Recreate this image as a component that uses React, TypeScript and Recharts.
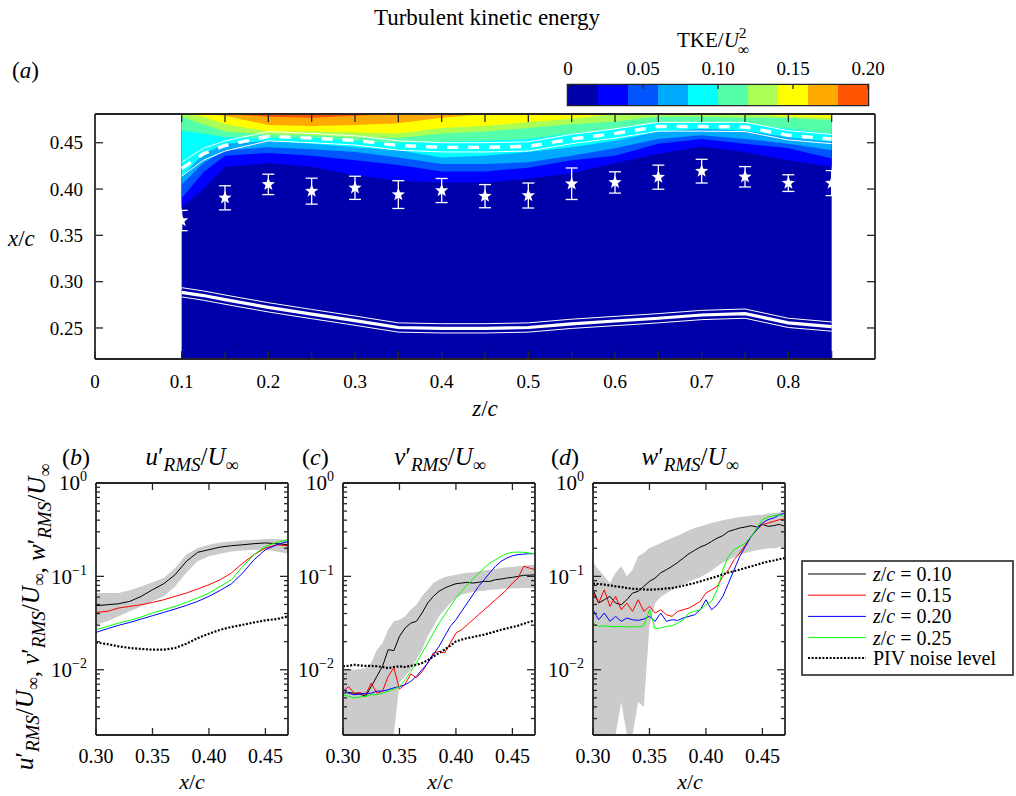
import React from 'react';
import { ComposedChart, BarChart, Bar, Area, Line, Scatter, ErrorBar, XAxis, YAxis, ReferenceArea } from 'recharts';

const SERIF = '"Liberation Serif", "Times New Roman", serif';
const AXC = '#262626';

// ---------- (a) TKE contour: x/c of each colour-band edge along z/c ----------
const Z_GRID = [0.1, 0.125, 0.15, 0.2, 0.25, 0.3, 0.35, 0.4, 0.45, 0.5, 0.55, 0.6, 0.65, 0.7, 0.75, 0.8, 0.85];
const TKE_COLORS = ['#0000AA', '#0000FF', '#0055FF', '#00AAFF', '#00FFFF', '#55FFAA', '#AAFF55', '#FFFF00', '#FFAA00', '#FF5500'];
const EDGE_1 = [0.380, 0.400, 0.424, 0.428, 0.424, 0.415, 0.409, 0.407, 0.407, 0.411, 0.417, 0.428, 0.438, 0.446, 0.440, 0.431, 0.424];
const EDGE_2 = [0.390, 0.418, 0.436, 0.439, 0.436, 0.431, 0.426, 0.419, 0.419, 0.423, 0.431, 0.436, 0.449, 0.454, 0.449, 0.444, 0.433];
const EDGE_3 = [0.405, 0.428, 0.442, 0.445, 0.443, 0.440, 0.434, 0.427, 0.427, 0.429, 0.436, 0.444, 0.454, 0.458, 0.454, 0.449, 0.442];
const EDGE_4 = [0.413, 0.438, 0.449, 0.452, 0.449, 0.445, 0.442, 0.434, 0.436, 0.440, 0.445, 0.452, 0.462, 0.465, 0.463, 0.456, 0.451];
const EDGE_5 = [0.463, 0.460, 0.456, 0.455, 0.455, 0.452, 0.450, 0.451, 0.452, 0.454, 0.460, 0.465, 0.472, 0.472, 0.471, 0.465, 0.460];
const EDGE_6 = [0.478, 0.470, 0.462, 0.459, 0.458, 0.456, 0.455, 0.460, 0.462, 0.466, 0.470, 0.473, 0.478, 0.478, 0.477, 0.477, 0.474];
const EDGE_7 = [0.481, 0.478, 0.470, 0.462, 0.462, 0.461, 0.460, 0.466, 0.468, 0.472, 0.476, 0.481, 0.481, 0.481, 0.481, 0.478, 0.477];
const EDGE_8 = [0.481, 0.481, 0.479, 0.469, 0.468, 0.469, 0.471, 0.477, 0.481, 0.481, 0.481, 0.481, 0.481, 0.481, 0.481, 0.481, 0.481];
const EDGE_9 = [0.481, 0.481, 0.481, 0.478, 0.477, 0.479, 0.481, 0.481, 0.481, 0.481, 0.481, 0.481, 0.481, 0.481, 0.481, 0.481, 0.481];
const EDGES = [EDGE_1, EDGE_2, EDGE_3, EDGE_4, EDGE_5, EDGE_6, EDGE_7, EDGE_8, EDGE_9];

const BL_DASH = [0.422, 0.438, 0.447, 0.457, 0.455, 0.4525, 0.447, 0.445, 0.445, 0.446, 0.454, 0.460, 0.4675, 0.4675, 0.467, 0.458, 0.454];
const BL_UPPER = [0.429, 0.444, 0.452, 0.462, 0.460, 0.4575, 0.452, 0.450, 0.450, 0.451, 0.459, 0.465, 0.472, 0.472, 0.472, 0.463, 0.459];
const BL_LOWER = [0.414, 0.431, 0.441, 0.452, 0.450, 0.4475, 0.442, 0.440, 0.440, 0.441, 0.449, 0.455, 0.4625, 0.4625, 0.462, 0.453, 0.449];
const WALL = [0.2885, 0.285, 0.2806, 0.2723, 0.265, 0.2579, 0.2505, 0.2496, 0.2496, 0.2505, 0.2545, 0.2575, 0.2605, 0.264, 0.2655, 0.2555, 0.2515];
const WALL_UPPER = [0.2935, 0.290, 0.2856, 0.2773, 0.270, 0.2629, 0.2555, 0.2546, 0.2546, 0.2555, 0.2595, 0.2625, 0.2655, 0.269, 0.2705, 0.2605, 0.2565];
const WALL_LOWER = [0.2835, 0.280, 0.2756, 0.2673, 0.260, 0.2529, 0.2455, 0.2446, 0.2446, 0.2455, 0.2495, 0.2525, 0.2555, 0.259, 0.2605, 0.2505, 0.2465];

const STAR_Z = [0.1, 0.15, 0.2, 0.25, 0.3, 0.35, 0.4, 0.45, 0.5, 0.55, 0.6, 0.65, 0.7, 0.75, 0.8, 0.85];
const STAR_X = [0.366, 0.3905, 0.405, 0.3977, 0.4013, 0.394, 0.3984, 0.3923, 0.393, 0.4057, 0.4071, 0.4128, 0.4193, 0.4132, 0.4064, 0.4064];
const STAR_ERR = [0.011, 0.013, 0.011, 0.014, 0.0125, 0.015, 0.013, 0.0125, 0.0135, 0.017, 0.0115, 0.013, 0.0128, 0.011, 0.009, 0.0135];

const A_X_TICKS = [0, 0.1, 0.15, 0.2, 0.25, 0.3, 0.35, 0.4, 0.45, 0.5, 0.55, 0.6, 0.65, 0.7, 0.75, 0.8, 0.85];
const A_TOP_TICKS = [0.1, 0.15, 0.2, 0.25, 0.3, 0.35, 0.4, 0.45, 0.5, 0.55, 0.6, 0.65, 0.7, 0.75, 0.8, 0.85];
const A_Y_TICKS = [0.25, 0.3, 0.35, 0.4, 0.45];
const A_Y_DOMAIN = [0.2165, 0.481];

const CBAR_BINS = [0.02, 0.02, 0.02, 0.02, 0.02, 0.02, 0.02, 0.02, 0.02, 0.02];
const CBAR_TICKS = [0, 0.05, 0.1, 0.15, 0.2];

// ---------- (b)-(d) RMS profiles ----------
const X_B = [0.30, 0.31, 0.32, 0.33, 0.34, 0.35, 0.36, 0.37, 0.38, 0.39, 0.40, 0.41, 0.42, 0.43, 0.44, 0.45, 0.46, 0.47];
const B_K10 = [0.0485, 0.0497, 0.0509, 0.0540, 0.0611, 0.0719, 0.0834, 0.104, 0.145, 0.181, 0.193, 0.206, 0.213, 0.218, 0.224, 0.228, 0.224, 0.218];
const B_K15 = [0.0411, 0.0422, 0.0458, 0.0477, 0.0497, 0.0526, 0.0562, 0.0611, 0.0663, 0.0731, 0.0814, 0.0921, 0.109, 0.139, 0.171, 0.201, 0.218, 0.213];
const B_K20 = [0.0251, 0.0275, 0.0299, 0.0321, 0.0349, 0.0379, 0.0411, 0.0447, 0.0489, 0.0540, 0.0611, 0.0708, 0.0834, 0.109, 0.151, 0.193, 0.218, 0.237];
const B_K25 = [0.0268, 0.0291, 0.0316, 0.0338, 0.0367, 0.0405, 0.0439, 0.0477, 0.0526, 0.0586, 0.0663, 0.0781, 0.0921, 0.128, 0.171, 0.210, 0.231, 0.247];
const B_NOISE = [0.0196, 0.0188, 0.0178, 0.0171, 0.0167, 0.0164, 0.0164, 0.0171, 0.0190, 0.0218, 0.0243, 0.0268, 0.0287, 0.0303, 0.0321, 0.0338, 0.0349, 0.0373];
const B_BAND_HI = [0.0663, 0.0663, 0.0663, 0.0708, 0.0781, 0.0863, 0.0960, 0.123, 0.171, 0.201, 0.218, 0.231, 0.237, 0.243, 0.247, 0.251, 0.251, 0.247];
const B_BAND_LO = [0.0303, 0.0330, 0.0373, 0.0422, 0.0477, 0.0540, 0.0611, 0.0781, 0.109, 0.145, 0.164, 0.175, 0.185, 0.189, 0.193, 0.193, 0.185, 0.175];

const X_CD = [0.300, 0.305, 0.310, 0.315, 0.320, 0.325, 0.330, 0.335, 0.340, 0.345, 0.350, 0.355, 0.360, 0.365, 0.370, 0.375, 0.380, 0.385,
  0.390, 0.395, 0.400, 0.405, 0.410, 0.415, 0.420, 0.425, 0.430, 0.435, 0.440, 0.445, 0.450, 0.455, 0.460, 0.465, 0.470];

const C_K10 = [0.0056, 0.0057, 0.0056, 0.0055, 0.0052, 0.0066, 0.0085, 0.0109, 0.0164, 0.0160, 0.0228, 0.0280, 0.0316, 0.0330, 0.0405, 0.0518, 0.0611, 0.0691,
  0.0750, 0.0794, 0.0834, 0.0848, 0.0863, 0.0848, 0.0863, 0.0884, 0.0884, 0.0921, 0.0936, 0.0960, 0.0976, 0.100, 0.1025, 0.103, 0.104];
const C_K15 = [0.0059, 0.0066, 0.0056, 0.0057, 0.0054, 0.0072, 0.0056, 0.0059, 0.0085, 0.0105, 0.0062, 0.0070, 0.0090, 0.0082, 0.0095, 0.0118, 0.0151, 0.0157,
  0.0151, 0.0193, 0.0247, 0.0268, 0.0303, 0.0343, 0.0388, 0.0439, 0.0497, 0.0562, 0.0636, 0.0719, 0.0848, 0.0960, 0.128, 0.123, 0.118];
const C_K20 = [0.0061, 0.0056, 0.0054, 0.0055, 0.0056, 0.0056, 0.0059, 0.0059, 0.0061, 0.0064, 0.0066, 0.0069, 0.0075, 0.0085, 0.0100, 0.0118, 0.0145, 0.0178,
  0.0228, 0.0291, 0.0343, 0.0422, 0.0518, 0.0636, 0.0781, 0.0921, 0.109, 0.128, 0.145, 0.157, 0.166, 0.171, 0.173, 0.175, 0.175];
const C_K25 = [0.0054, 0.0052, 0.0050, 0.0051, 0.0052, 0.0054, 0.0054, 0.0056, 0.0059, 0.0062, 0.0066, 0.0078, 0.0096, 0.0118, 0.0151, 0.0193, 0.0247, 0.0316,
  0.0388, 0.0477, 0.0586, 0.0691, 0.0814, 0.0936, 0.107, 0.123, 0.139, 0.151, 0.164, 0.175, 0.181, 0.182, 0.181, 0.178, 0.175];
const C_NOISE = [0.0109, 0.0110, 0.0113, 0.0111, 0.0110, 0.0110, 0.0109, 0.0107, 0.0104, 0.0107, 0.0109, 0.0107, 0.0110, 0.0113, 0.0118, 0.0126, 0.0139, 0.0151,
  0.0164, 0.0181, 0.0201, 0.0210, 0.0218, 0.0224, 0.0231, 0.0238, 0.0247, 0.0257, 0.0268, 0.0277, 0.0287, 0.0296, 0.0311, 0.0325, 0.0338];
const C_BAND_HI = [0.0100, 0.0100, 0.0100, 0.0102, 0.0104, 0.0118, 0.0164, 0.0193, 0.0268, 0.0330, 0.0343, 0.0373, 0.0439, 0.0497, 0.0611, 0.0719, 0.0848, 0.0921,
  0.0984, 0.101, 0.104, 0.107, 0.109, 0.110, 0.113, 0.116, 0.118, 0.120, 0.123, 0.125, 0.126, 0.128, 0.130, 0.132, 0.133];
const C_BAND_LO = [0.002, 0.002, 0.002, 0.002, 0.002, 0.002, 0.002, 0.002, 0.002, 0.002, 0.0072, 0.0085, 0.0100, 0.0128, 0.0164, 0.0228, 0.0291, 0.0373,
  0.0439, 0.0518, 0.0586, 0.0636, 0.0663, 0.068, 0.0691, 0.070, 0.0719, 0.0725, 0.0731, 0.074, 0.0745, 0.0745, 0.075, 0.075, 0.075];

const D_K10 = [0.0719, 0.0518, 0.0562, 0.0611, 0.0518, 0.0497, 0.0562, 0.0663, 0.0691, 0.0781, 0.0884, 0.0960, 0.109, 0.118, 0.128, 0.141, 0.157, 0.175,
  0.190, 0.206, 0.218, 0.237, 0.257, 0.273, 0.303, 0.316, 0.330, 0.338, 0.349, 0.338, 0.361, 0.343, 0.349, 0.361, 0.343];
const D_K15 = [0.0663, 0.0518, 0.0719, 0.0477, 0.0611, 0.0439, 0.0518, 0.0422, 0.0562, 0.0422, 0.0477, 0.0405, 0.0439, 0.0388, 0.0373, 0.0422, 0.0439, 0.0458,
  0.0497, 0.0540, 0.0663, 0.0719, 0.0781, 0.100, 0.118, 0.151, 0.178, 0.218, 0.268, 0.316, 0.358, 0.373, 0.388, 0.405, 0.411];
const D_K20 = [0.0439, 0.0343, 0.0405, 0.0330, 0.0373, 0.0330, 0.0358, 0.0343, 0.0338, 0.0349, 0.0373, 0.0330, 0.0405, 0.0330, 0.0343, 0.0338, 0.0358, 0.0373,
  0.0388, 0.0439, 0.0562, 0.0439, 0.0497, 0.0611, 0.0848, 0.118, 0.164, 0.210, 0.268, 0.316, 0.373, 0.405, 0.422, 0.458, 0.477];
const D_K25 = [0.0316, 0.0291, 0.0296, 0.0291, 0.0287, 0.0291, 0.0287, 0.0291, 0.0287, 0.0296, 0.0440, 0.0273, 0.0280, 0.0291, 0.0296, 0.0316, 0.0343, 0.0405,
  0.0422, 0.0439, 0.0497, 0.0540, 0.0719, 0.118, 0.164, 0.193, 0.210, 0.228, 0.268, 0.330, 0.405, 0.432, 0.447, 0.458, 0.432];
const D_NOISE = [0.0834, 0.0828, 0.0814, 0.0801, 0.0781, 0.0769, 0.0750, 0.0737, 0.0731, 0.0725, 0.0719, 0.0725, 0.0731, 0.0743, 0.0750, 0.0769, 0.0794, 0.0821,
  0.0848, 0.0884, 0.0921, 0.0960, 0.100, 0.105, 0.110, 0.114, 0.118, 0.123, 0.128, 0.133, 0.139, 0.144, 0.148, 0.153, 0.157];
const D_BAND_HI = [0.139, 0.118, 0.100, 0.0848, 0.109, 0.128, 0.100, 0.118, 0.164, 0.178, 0.201, 0.213, 0.228, 0.243, 0.257, 0.273, 0.291, 0.311,
  0.330, 0.343, 0.358, 0.373, 0.388, 0.400, 0.411, 0.422, 0.432, 0.439, 0.447, 0.454, 0.458, 0.470, 0.477, 0.485, 0.497];
const D_BAND_LO = [0.002, 0.002, 0.002, 0.002, 0.002, 0.0045, 0.002, 0.002, 0.0045, 0.004, 0.030, 0.052, 0.060, 0.066, 0.072, 0.077, 0.082, 0.088,
  0.093, 0.098, 0.106, 0.115, 0.128, 0.140, 0.150, 0.160, 0.170, 0.178, 0.185, 0.190, 0.195, 0.200, 0.200, 0.205, 0.205];

const RMS_X_TICKS = [0.3, 0.35, 0.4, 0.45];
const LOG_MAJOR = [0.01, 0.1, 1];
const LOG_MINOR = [0.003, 0.004, 0.005, 0.006, 0.007, 0.008, 0.009, 0.02, 0.03, 0.04, 0.05, 0.06, 0.07, 0.08, 0.09, 0.2, 0.3, 0.4, 0.5, 0.6, 0.7, 0.8, 0.9];
const LOG_TICKS = [...LOG_MINOR, ...LOG_MAJOR];

const LEGEND = [
  { label: '0.10', color: '#000000' },
  { label: '0.15', color: '#FF0000' },
  { label: '0.20', color: '#0000FF' },
  { label: '0.25', color: '#00FF00' },
];

// inward tick marks (matlab style), label drawn outside
type Side = 'left' | 'right' | 'top' | 'bottom';
const mkTick = (side: Side, len: number, label?: (v: number) => React.ReactNode, fs = 19, off = 10, minor: number[] = []) =>
  (p: any) => {
    const { x, y, payload } = p;
    const v = payload.value as number;
    const isMinor = minor.some((m) => Math.abs(m - v) < 1e-9);
    const l = isMinor ? len / 2 : len;
    const d = side === 'left' ? [l, 0] : side === 'right' ? [-l, 0] : side === 'top' ? [0, l] : [0, -l];
    const lab = !isMinor && label ? label(v) : null;
    const ts = { fontFamily: SERIF, fontSize: fs };
    let text: React.ReactNode = null;
    if (lab !== null && lab !== undefined) {
      if (side === 'left') {
        text = <text x={x - off} y={y} dy="0.35em" textAnchor="end" style={ts} fill="#000">{lab}</text>;
      } else if (side === 'bottom') {
        text = <text x={x} y={y + off} textAnchor="middle" style={ts} fill="#000">{lab}</text>;
      } else if (side === 'top') {
        text = <text x={x} y={y - off} textAnchor="middle" style={ts} fill="#000">{lab}</text>;
      }
    }
    return (
      <g>
        <line x1={x} y1={y} x2={x + d[0]} y2={y + d[1]} stroke={AXC} strokeWidth={1.3} />
        {text}
      </g>
    );
  };

const logLabel = (v: number) => {
  const e = Math.round(Math.log10(v));
  return (
    <>
      <tspan>10</tspan>
      <tspan dy={-9} fontSize={14}>{e === 0 ? '0' : '\u2212' + Math.abs(e)}</tspan>
    </>
  );
};

const Star = (p: any) => {
  const { cx, cy } = p;
  if (cx == null || cy == null) return null;
  const pts: string[] = [];
  for (let i = 0; i < 10; i++) {
    const r = i % 2 === 0 ? 7 : 2.9;
    const a = -Math.PI / 2 + (i * Math.PI) / 5;
    pts.push(`${cx + r * Math.cos(a)},${cy + r * Math.sin(a)}`);
  }
  return <polygon points={pts.join(' ')} fill="#ffffff" />;
};

const contourRows = Z_GRID.map((z, i) => {
  const r: any = {
    z,
    base: [A_Y_DOMAIN[0], A_Y_DOMAIN[1]],
    dash: BL_DASH[i], blUp: BL_UPPER[i], blLo: BL_LOWER[i],
    wall: WALL[i], wallUp: WALL_UPPER[i], wallLo: WALL_LOWER[i],
  };
  EDGES.forEach((e, k) => { r['lv' + k] = [e[i], A_Y_DOMAIN[1]]; });
  return r;
});
const starRows = STAR_Z.map((z, i) => ({ z, xc: STAR_X[i], err: STAR_ERR[i] }));

const axisLine = { stroke: AXC, strokeWidth: 1.8 };

// axes are 1px thick (recharts skips a 0-sized axis), margins compensate
const ContourPanel = () => (
  <ComposedChart width={900} height={420} data={contourRows} margin={{ top: 113, right: 24, bottom: 60, left: 94 }}>
    <Area dataKey="base" type="linear" stroke="none" fill={TKE_COLORS[0]} fillOpacity={1} dot={false} activeDot={false} isAnimationActive={false} />
    {EDGES.map((_, k) => (
      <Area key={k} dataKey={'lv' + k} type="linear" stroke="none" fill={TKE_COLORS[k + 1]} fillOpacity={1} dot={false} activeDot={false} isAnimationActive={false} />
    ))}
    <Line dataKey="blUp" type="linear" stroke="#ffffff" strokeWidth={1} dot={false} activeDot={false} isAnimationActive={false} />
    <Line dataKey="blLo" type="linear" stroke="#ffffff" strokeWidth={1} dot={false} activeDot={false} isAnimationActive={false} />
    <Line dataKey="dash" type="linear" stroke="#ffffff" strokeWidth={3.4} strokeDasharray="11 10" dot={false} activeDot={false} isAnimationActive={false} />
    <Line dataKey="wallUp" type="linear" stroke="#ffffff" strokeWidth={1} dot={false} activeDot={false} isAnimationActive={false} />
    <Line dataKey="wallLo" type="linear" stroke="#ffffff" strokeWidth={1} dot={false} activeDot={false} isAnimationActive={false} />
    <Line dataKey="wall" type="linear" stroke="#ffffff" strokeWidth={3.2} dot={false} activeDot={false} isAnimationActive={false} />
    <Scatter data={starRows} dataKey="xc" shape={Star} isAnimationActive={false}>
      <ErrorBar dataKey="err" direction="y" width={6} stroke="#ffffff" strokeWidth={1.3} />
    </Scatter>
    <XAxis dataKey="z" type="number" domain={[0, 0.9]} allowDataOverflow ticks={A_X_TICKS} interval={0} height={1} tickSize={0} tickMargin={0}
      axisLine={axisLine} tickLine={false}
      tick={mkTick('bottom', 8, (v) => (Math.abs(v * 10 - Math.round(v * 10)) < 1e-6 ? (v === 0 ? '0' : v.toFixed(1)) : null), 19, 29)} />
    <XAxis xAxisId="t" dataKey="z" type="number" orientation="top" domain={[0, 0.9]} allowDataOverflow ticks={A_TOP_TICKS} interval={0} height={1}
      tickSize={0} tickMargin={0} axisLine={axisLine} tickLine={false} tick={mkTick('top', 8)} />
    <YAxis type="number" domain={A_Y_DOMAIN} allowDataOverflow ticks={A_Y_TICKS} interval={0} width={1} tickSize={0} tickMargin={0}
      axisLine={axisLine} tickLine={false} tick={mkTick('left', 8, (v) => v.toFixed(2), 19, 12)} />
    <YAxis yAxisId="r" orientation="right" type="number" domain={A_Y_DOMAIN} allowDataOverflow ticks={A_Y_TICKS} interval={0} width={1}
      tickSize={0} tickMargin={0} axisLine={axisLine} tickLine={false} tick={mkTick('right', 8)} />
  </ComposedChart>
);

const cbarRow = [CBAR_BINS.reduce((acc: any, v, i) => ({ ...acc, ['s' + i]: v }), { name: 'tke' })];

const ColorBar = () => (
  <BarChart width={360} height={80} data={cbarRow} layout="vertical" barCategoryGap={0} barGap={0}
    margin={{ top: 44, right: 32, bottom: 15, left: 28 }}>
    {CBAR_BINS.map((_, i) => (
      <Bar key={i} dataKey={'s' + i} stackId="c" fill={TKE_COLORS[i]} isAnimationActive={false} />
    ))}
    <ReferenceArea x1={0} x2={0.2} fill="none" fillOpacity={0} stroke={AXC} strokeWidth={2.6} />
    <XAxis type="number" orientation="top" domain={[0, 0.2]} allowDataOverflow ticks={CBAR_TICKS} interval={0} height={1}
      tickSize={0} tickMargin={0} axisLine={false} tickLine={false}
      tick={mkTick('top', 4, (v) => (v === 0 ? '0' : v.toFixed(2)), 19, 10)} />
    <YAxis type="category" dataKey="name" hide />
  </BarChart>
);

type RmsProps = { left: number; mLeft: number; rows: any[] };
const RmsPanel = ({ left, mLeft, rows }: RmsProps) => (
  <div style={{ position: 'absolute', left, top: 430 }}>
    <ComposedChart width={300} height={366} data={rows} margin={{ top: 52, right: 300 - mLeft - 192 - 1, bottom: 60, left: mLeft - 1 }}>
      <Area dataKey="band" type="linear" stroke="none" fill="#CBCBCB" fillOpacity={1} dot={false} activeDot={false} isAnimationActive={false} />
      <Line dataKey="k10" type="linear" stroke="#000000" strokeWidth={1} dot={false} activeDot={false} isAnimationActive={false} />
      <Line dataKey="k15" type="linear" stroke="#FF0000" strokeWidth={1} dot={false} activeDot={false} isAnimationActive={false} />
      <Line dataKey="k20" type="linear" stroke="#0000FF" strokeWidth={1} dot={false} activeDot={false} isAnimationActive={false} />
      <Line dataKey="k25" type="linear" stroke="#00FF00" strokeWidth={1} dot={false} activeDot={false} isAnimationActive={false} />
      <Line dataKey="noise" type="linear" stroke="#000000" strokeWidth={2.2} strokeDasharray="2 1.6" dot={false} activeDot={false} isAnimationActive={false} />
      <XAxis dataKey="x" type="number" domain={[0.3, 0.47]} allowDataOverflow ticks={RMS_X_TICKS} interval={0} height={1} tickSize={0} tickMargin={0}
        axisLine={axisLine} tickLine={false} tick={mkTick('bottom', 7, (v) => v.toFixed(2), 20, 28)} />
      <XAxis xAxisId="t" dataKey="x" type="number" orientation="top" domain={[0.3, 0.47]} allowDataOverflow ticks={RMS_X_TICKS} interval={0}
        height={1} tickSize={0} tickMargin={0} axisLine={axisLine} tickLine={false} tick={mkTick('top', 7)} />
      <YAxis type="number" scale="log" domain={[0.002, 1]} allowDataOverflow ticks={LOG_TICKS} interval={0} width={1} tickSize={0} tickMargin={0}
        axisLine={axisLine} tickLine={false} tick={mkTick('left', 8, logLabel, 21, 9, LOG_MINOR)} />
      <YAxis yAxisId="r" orientation="right" type="number" scale="log" domain={[0.002, 1]} allowDataOverflow ticks={LOG_TICKS} interval={0}
        width={1} tickSize={0} tickMargin={0} axisLine={axisLine} tickLine={false} tick={mkTick('right', 8, undefined, 21, 9, LOG_MINOR)} />
    </ComposedChart>
  </div>
);

const mkRows = (xs: number[], k10: number[], k15: number[], k20: number[], k25: number[], noise: number[], lo: number[], hi: number[]) =>
  xs.map((x, i) => ({ x, k10: k10[i], k15: k15[i], k20: k20[i], k25: k25[i], noise: noise[i], band: [lo[i], hi[i]] }));

const rowsB = mkRows(X_B, B_K10, B_K15, B_K20, B_K25, B_NOISE, B_BAND_LO, B_BAND_HI);
const rowsC = mkRows(X_CD, C_K10, C_K15, C_K20, C_K25, C_NOISE, C_BAND_LO, C_BAND_HI);
const rowsD = mkRows(X_CD, D_K10, D_K15, D_K20, D_K25, D_NOISE, D_BAND_LO, D_BAND_HI);

const RmsSym = ({ ch }: { ch: string }) => (
  <>
    <tspan fontStyle="italic">{ch}</tspan>
    <tspan>{'\u2032'}</tspan>
    <tspan fontStyle="italic" fontSize={19} dy={6}>RMS</tspan>
    <tspan dy={-6}>/</tspan>
    <tspan fontStyle="italic">U</tspan>
    <tspan fontSize={18} dy={6}>{'\u221E'}</tspan>
    <tspan dy={-6}>{''}</tspan>
  </>
);

const Overlay = () => (
  <svg width={1016} height={796} style={{ position: 'absolute', left: 0, top: 0, pointerEvents: 'none', fontFamily: SERIF }}>
    <text x={487} y={25} textAnchor="middle" fontSize={23}>Turbulent kinetic energy</text>
    <text x={677} y={47} fontSize={21}>TKE/<tspan fontStyle="italic">U</tspan></text>
    <text x={739} y={38} fontSize={15}>2</text>
    <text x={738} y={55} fontSize={16}>{'\u221E'}</text>
    <text x={12} y={78} fontSize={23}>(<tspan fontStyle="italic">a</tspan>)</text>
    <text x={8} y={246} fontSize={23}><tspan fontStyle="italic">x</tspan>/<tspan fontStyle="italic">c</tspan></text>
    <text x={485} y={416} textAnchor="middle" fontSize={23}><tspan fontStyle="italic">z</tspan>/<tspan fontStyle="italic">c</tspan></text>

    <text x={62} y={465} fontSize={24}>(<tspan fontStyle="italic">b</tspan>)</text>
    <text x={302} y={465} fontSize={24}>(<tspan fontStyle="italic">c</tspan>)</text>
    <text x={551} y={465} fontSize={24}>(<tspan fontStyle="italic">d</tspan>)</text>
    <text x={192} y={465} textAnchor="middle" fontSize={25}><RmsSym ch="u" /></text>
    <text x={440} y={465} textAnchor="middle" fontSize={25}><RmsSym ch="v" /></text>
    <text x={690} y={465} textAnchor="middle" fontSize={25}><RmsSym ch="w" /></text>
    <text transform="translate(33,617) rotate(-90)" textAnchor="middle" fontSize={25}>
      <RmsSym ch="u" /><tspan>, </tspan><RmsSym ch="v" /><tspan>, </tspan><RmsSym ch="w" />
    </text>
    {[192, 440, 690].map((cx) => (
      <text key={cx} x={cx} y={789} textAnchor="middle" fontSize={22}><tspan fontStyle="italic">x</tspan>/<tspan fontStyle="italic">c</tspan></text>
    ))}

    <rect x={802} y={561} width={211} height={114} fill="#ffffff" stroke={AXC} strokeWidth={1.6} />
    {LEGEND.map((e, i) => (
      <g key={e.label}>
        <line x1={808} x2={866} y1={574 + i * 21.2} y2={574 + i * 21.2} stroke={e.color} strokeWidth={1} />
        <text x={873} y={581 + i * 21.2} fontSize={20}>
          <tspan fontStyle="italic">z</tspan>/<tspan fontStyle="italic">c</tspan> = {e.label}
        </text>
      </g>
    ))}
    <line x1={808} x2={866} y1={658} y2={658} stroke="#000" strokeWidth={2.2} strokeDasharray="2 1.6" />
    <text x={873} y={665} fontSize={20}>PIV noise level</text>
  </svg>
);

export default function App() {
  return (
    <div style={{ position: 'absolute', left: 0, top: 0, width: 1016, height: 796, background: '#ffffff', overflow: 'hidden' }}>
      <div style={{ position: 'absolute', left: 0, top: 0 }}>
        <ContourPanel />
      </div>
      <div style={{ position: 'absolute', left: 540, top: 40 }}>
        <ColorBar />
      </div>
      <RmsPanel left={0} mLeft={96} rows={rowsB} />
      <RmsPanel left={250} mLeft={93} rows={rowsC} />
      <RmsPanel left={500} mLeft={93} rows={rowsD} />
      <Overlay />
    </div>
  );
}
